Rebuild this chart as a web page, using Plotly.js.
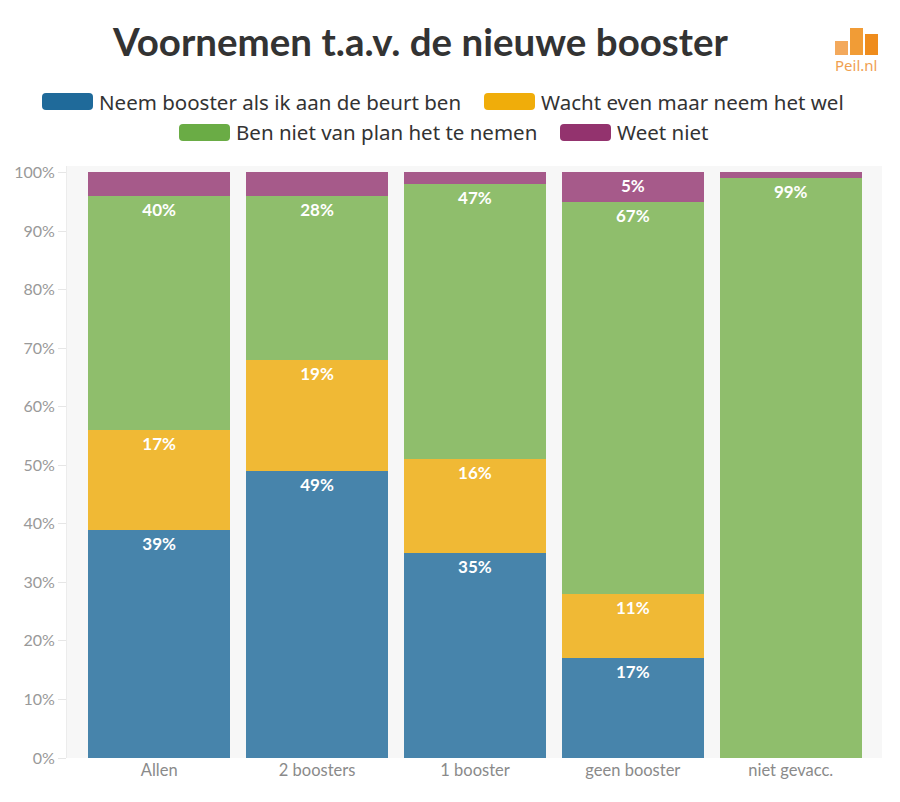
<!DOCTYPE html>
<html>
<head>
<meta charset="utf-8">
<script src="https://cdn.plot.ly/plotly-3.0.1.min.js"></script>
<style>html,body{margin:0;padding:0;background:#fff;}#chart{width:900px;height:802px;}</style>
</head>
<body>
<div id="chart"></div>
<script>
const categories = ["Allen", "2 boosters", "1 booster", "geen booster", "niet gevacc."];
const seriesNames = ["Neem booster als ik aan de beurt ben", "Wacht even maar neem het wel", "Ben niet van plan het te nemen", "Weet niet"];
const neemBooster = [39, 49, 35, 17, 0];
const wachtEven = [17, 19, 16, 11, 0];
const nietVanPlan = [40, 28, 47, 67, 99];
const weetNiet = [4, 4, 2, 5, 1];
const shownLabels = [
  [true, true, true, true, false],
  [true, true, true, true, false],
  [true, true, true, true, true],
  [false, false, false, true, false]
];
const yTickVals = [0, 10, 20, 30, 40, 50, 60, 70, 80, 90, 100];
const yTickText = ["0%", "10%", "20%", "30%", "40%", "50%", "60%", "70%", "80%", "90%", "100%"];
const barColors = ["#4784ab", "#f0b935", "#8fbe6c", "#a65a8a"];
const legendColors = ["#1f6a9a", "#f0ad0a", "#6aac45", "#93336e"];

const FONT = "Lato, 'Noto Sans', sans-serif";
const LFONT = "'Noto Sans', Lato, sans-serif";
const allSeries = [neemBooster, wachtEven, nietVanPlan, weetNiet];

const traces = allSeries.map((vals, i) => ({
  type: "bar",
  name: seriesNames[i],
  x: categories,
  y: vals,
  marker: {color: barColors[i], line: {width: 0}},
  text: vals.map((v, j) => shownLabels[i][j] ? v + "%" : ""),
  textposition: "inside",
  insidetextanchor: "end",
  textangle: 0,
  constraintext: "none",
  textfont: {family: FONT, size: 17, color: "#ffffff", weight: 700},
  hoverinfo: "name+y",
  showlegend: false
}));

const W = 900, H = 802;
const M = {l: 67, r: 18, t: 166, b: 44};
const PW = W - M.l - M.r, PH = H - M.t - M.b;
function px(x) { return (x - M.l) / PW; }
function py(y) { return (H - M.b - y) / PH; }
const pts = (x, y) => `${px(x)},${py(y)}`;

const legendItems = [
  {x: 42, y: 101.5, i: 0},
  {x: 484, y: 101.5, i: 1},
  {x: 179, y: 132.5, i: 2},
  {x: 560, y: 132.5, i: 3}
];

const shapes = [];
const annotations = [];
legendItems.forEach(it => {
  const x0 = it.x, y0 = it.y - 8.5, w = 51, h = 17, r = 4;
  shapes.push({
    type: "path", xref: "paper", yref: "paper",
    path: `M${pts(x0 + r, y0)} L${pts(x0 + w - r, y0)} Q${pts(x0 + w, y0)} ${pts(x0 + w, y0 + r)} L${pts(x0 + w, y0 + h - r)} Q${pts(x0 + w, y0 + h)} ${pts(x0 + w - r, y0 + h)} L${pts(x0 + r, y0 + h)} Q${pts(x0, y0 + h)} ${pts(x0, y0 + h - r)} L${pts(x0, y0 + r)} Q${pts(x0, y0)} ${pts(x0 + r, y0)} Z`,
    line: {width: 0}, fillcolor: legendColors[it.i]
  });
  annotations.push({
    xref: "paper", yref: "paper", x: px(x0 + w + 4), y: py(it.y),
    xanchor: "left", yanchor: "middle", showarrow: false,
    text: seriesNames[it.i],
    font: {family: LFONT, size: 20.5, color: "#333333"}
  });
});

// logo
const logoBars = [
  {x0: 835, x1: 848, y0: 41, color: "#f3a95c"},
  {x0: 850, x1: 863, y0: 28, color: "#f19c36"},
  {x0: 865, x1: 878, y0: 34, color: "#ef8c1c"}
];
logoBars.forEach(b => {
  shapes.push({
    type: "rect", xref: "paper", yref: "paper",
    x0: px(b.x0), x1: px(b.x1), y0: py(55), y1: py(b.y0),
    line: {width: 0}, fillcolor: b.color
  });
});
annotations.push({
  xref: "paper", yref: "paper", x: px(856), y: py(65),
  xanchor: "center", yanchor: "middle", showarrow: false,
  text: "Peil.nl", font: {family: LFONT, size: 15, color: "#f0a050"}
});
annotations.push({
  xref: "paper", yref: "paper", x: px(420), y: py(41),
  xanchor: "center", yanchor: "middle", showarrow: false,
  text: "<b>Voornemen t.a.v. de nieuwe booster</b>",
  font: {family: FONT, size: 38.5, color: "#333333"}
});

const layout = {
  width: W, height: H,
  barmode: "stack",
  bargap: 0.1,
  paper_bgcolor: "#ffffff",
  plot_bgcolor: "#f7f7f7",
  margin: M,
  font: {family: FONT},
  showlegend: false,
  xaxis: {
    type: "category",
    range: [-0.584, 4.578],
    showgrid: false, zeroline: false, showline: false,
    ticks: "",
    tickfont: {family: FONT, size: 16.5, color: "#8a8a8a"},
    fixedrange: true
  },
  yaxis: {
    range: [0, 101.1],
    tickvals: yTickVals, ticktext: yTickText,
    showgrid: false, zeroline: false,
    showline: true, linecolor: "#ececec", linewidth: 1,
    ticks: "outside", ticklen: 8, tickcolor: "#e6e6e6",
    tickfont: {family: FONT, size: 16, color: "#999999"},
    fixedrange: true
  },
  shapes: shapes,
  annotations: annotations
};

Plotly.newPlot("chart", traces, layout, {displayModeBar: false, staticPlot: true});
</script>
</body>
</html>
